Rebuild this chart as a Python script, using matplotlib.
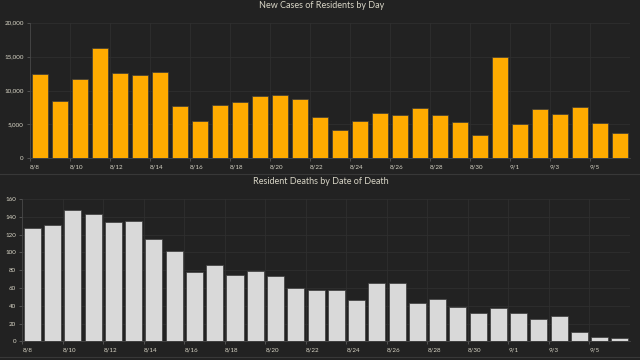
import matplotlib
matplotlib.use("Agg")
import matplotlib.pyplot as plt
from matplotlib.lines import Line2D
from matplotlib.transforms import ScaledTranslation
import numpy as np

dates = ["8/8", "8/9", "8/10", "8/11", "8/12", "8/13", "8/14", "8/15", "8/16", "8/17",
         "8/18", "8/19", "8/20", "8/21", "8/22", "8/23", "8/24", "8/25", "8/26", "8/27",
         "8/28", "8/29", "8/30", "8/31", "9/1", "9/2", "9/3", "9/4", "9/5", "9/6"]
cases = [12430, 8400, 11700, 16310, 12580, 12330, 12730, 7710, 5500, 7810,
         8300, 9140, 9290, 8700, 6040, 4130, 5550, 6630, 6390, 7420,
         6340, 5360, 3490, 14990, 5060, 7270, 6540, 7570, 5210, 3780]
deaths = [127, 131, 148, 143, 134, 135, 115, 101, 78, 86,
          74, 79, 73, 60, 58, 58, 46, 65, 65, 43,
          48, 39, 32, 38, 32, 25, 29, 11, 5, 4]

BG = "#222222"
TXT = "#d8d5c6"
GRID = "#2f2f2f"

plt.rcParams["font.family"] = ["Lato", "DejaVu Sans"]

fig = plt.figure(figsize=(6.4, 3.6), dpi=100, facecolor=BG)

def setup(ax, values, color, ylim, yticks, yfmt):
    x = np.arange(len(values)) + 0.5
    ax.set_facecolor(BG)
    ax.bar(x, values, width=0.84, color=color, edgecolor="#3c3c3c", linewidth=0.5, zorder=3)
    ax.set_xlim(0, len(values))
    ax.set_ylim(*ylim)
    ax.set_yticks(yticks)
    ax.set_yticklabels([yfmt(v) for v in yticks])
    xt = np.arange(0, len(values), 2)
    ax.set_xticks(xt)
    ax.set_xticklabels([dates[i] for i in xt], ha="left")
    off = ScaledTranslation(2.5 / 100, 0, fig.dpi_scale_trans)
    for lab in ax.get_xticklabels():
        lab.set_transform(lab.get_transform() + off)
    ax.grid(True, color=GRID, linewidth=0.6, zorder=0)
    for s in ["top", "right"]:
        ax.spines[s].set_visible(False)
    for s in ["left", "bottom"]:
        ax.spines[s].set_color("#474747")
        ax.spines[s].set_linewidth(0.6)
    ax.tick_params(axis="both", colors="#5a5a5a", labelcolor=TXT, labelsize=4.5,
                   length=2.5, width=0.6, pad=2)

ax1 = fig.add_axes([30 / 640, 1 - 158.3 / 360, 600 / 640, (158.3 - 22.7) / 360])
setup(ax1, cases, "#ffab00", (0, 20000), [0, 5000, 10000, 15000, 20000],
      lambda v: f"{v:,}")

ax2 = fig.add_axes([22.3 / 640, 1 - 341.3 / 360, 607.7 / 640, (341.3 - 199) / 360])
setup(ax2, deaths, "#d9d9d9", (0, 160), list(range(0, 161, 20)), lambda v: f"{v}")

fig.text(0.502, 1 - 5 / 360, "New Cases of Residents by Day", ha="center", va="center",
         color=TXT, fontsize=6.5)
fig.text(0.502, 1 - 181.5 / 360, "Resident Deaths by Date of Death", ha="center", va="center",
         color=TXT, fontsize=6.5)

fig.add_artist(Line2D([0, 1], [1 - 173.5 / 360] * 2, color="#383838", linewidth=0.8))
fig.add_artist(Line2D([0, 1], [1 - 356.5 / 360] * 2, color="#383838", linewidth=0.8))

fig.savefig("out.png", dpi=100, facecolor=BG)
